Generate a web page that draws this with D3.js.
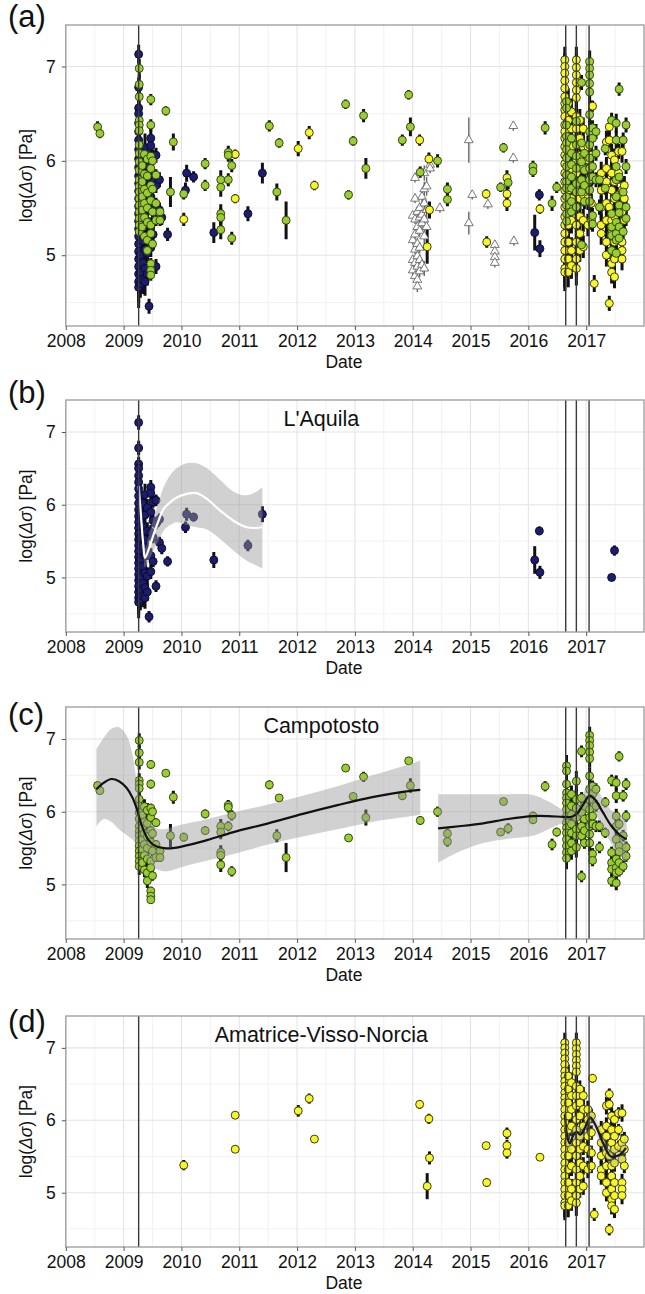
<!DOCTYPE html>
<html>
<head>
<meta charset="utf-8">
<script src="https://cdn.jsdelivr.net/npm/d3@7"></script>
<style>
  body { margin: 0; background: #fff; }
  svg { display: block; font-family: "Liberation Sans", Arial, Helvetica, sans-serif; }
</style>
</head>
<body>
<svg id="chart" width="645" height="1294"></svg>
<script>
// Stress-drop estimates, log10(Δσ) in Pa, per decimal year.
// Each row: [decimal year, error half-width, value, value, ...]
const laquila = [
  [2009.26, 0.10, 7.13, 6.78, 6.56, 6.50, 6.40, 6.31, 6.22, 6.12, 6.02, 5.93],
  [2009.26, 0.14, 5.84, 5.76, 5.68, 5.60, 5.52, 5.44, 5.36, 5.28, 5.20, 5.12],
  [2009.26, 0.22, 5.04, 4.96, 4.88, 4.80, 4.72, 4.66],
  [2009.29, 0.15, 5.88, 5.55, 5.25, 5.00, 4.82, 4.70],
  [2009.33, 0.15, 6.02, 5.70, 5.42, 5.15, 4.92, 4.74],
  [2009.37, 0.15, 6.14, 5.86, 5.52, 5.30, 5.06, 4.86, 4.72],
  [2009.41, 0.12, 5.96, 5.64, 5.36, 5.02, 4.80],
  [2009.44, 0.08, 4.46],
  [2009.47, 0.10, 6.24, 6.16, 5.90, 5.62, 5.30, 5.08],
  [2009.51, 0.08, 6.04, 5.78, 5.55, 5.22],
  [2009.56, 0.08, 6.06, 5.74, 4.88],
  [2009.62, 0.08, 5.80, 5.48],
  [2009.66, 0.08, 5.40],
  [2009.76, 0.07, 5.22],
  [2010.07, 0.08, 5.69],
  [2010.09, 0.09, 5.87],
  [2010.21, 0.06, 5.83],
  [2010.56, 0.11, 5.24],
  [2011.15, 0.08, 5.44],
  [2011.40, 0.11, 5.87],
  [2016.11, 0.19, 5.24],
  [2016.19, 0.06, 5.64],
  [2016.20, 0.09, 5.07],
  [2017.44, 0.05, 5.00],
  [2017.49, 0.07, 5.37]
];

const campotosto = [
  [2008.55, 0.06, 6.36],
  [2008.59, 0.05, 6.29],
  [2009.27, 0.10, 6.98, 6.81, 6.68, 6.43, 6.38, 6.32, 6.17, 6.08, 5.99, 5.90],
  [2009.27, 0.12, 5.80, 5.73, 5.67, 5.60, 5.53, 5.46, 5.39, 5.32, 5.25],
  [2009.32, 0.10, 5.95, 5.78, 5.62, 5.48, 5.30],
  [2009.36, 0.10, 6.07, 5.86, 5.70, 5.55, 5.40, 5.20],
  [2009.41, 0.10, 6.02, 5.84, 5.66, 5.50, 5.35, 5.16, 5.05],
  [2009.47, 0.06, 6.65, 6.38, 6.05, 5.92, 5.74, 5.58, 5.32, 5.23, 4.91, 4.84, 4.79],
  [2009.50, 0.07, 6.00, 5.70, 5.46, 5.12],
  [2009.56, 0.06, 5.85, 5.55, 5.37],
  [2009.63, 0.06, 5.46, 5.37],
  [2009.73, 0.05, 6.53],
  [2009.81, 0.16, 5.67],
  [2009.86, 0.09, 6.20],
  [2010.04, 0.06, 5.65],
  [2010.41, 0.06, 5.97, 5.74],
  [2010.68, 0.10, 5.80, 5.72, 5.44, 5.40, 5.27],
  [2010.81, 0.07, 6.09, 6.06, 5.80],
  [2010.87, 0.07, 5.95, 5.18],
  [2011.52, 0.06, 6.37],
  [2011.69, 0.05, 6.19],
  [2011.65, 0.09, 5.67],
  [2011.81, 0.20, 5.37],
  [2012.84, 0.05, 6.60],
  [2012.89, 0.05, 5.64],
  [2012.97, 0.05, 6.21],
  [2013.15, 0.07, 6.48],
  [2013.19, 0.11, 5.92],
  [2013.82, 0.06, 6.22],
  [2013.93, 0.05, 6.70],
  [2013.96, 0.10, 6.36],
  [2014.13, 0.06, 5.88],
  [2014.43, 0.07, 6.00],
  [2014.60, 0.07, 5.70, 5.59],
  [2015.57, 0.05, 6.14],
  [2015.52, 0.05, 5.72],
  [2015.65, 0.07, 5.77],
  [2016.08, 0.06, 5.94, 5.89],
  [2016.29, 0.07, 6.35],
  [2016.41, 0.08, 5.55],
  [2016.49, 0.06, 5.72],
  [2016.66, 0.15, 6.63, 6.56, 6.38, 6.26, 6.19, 6.12, 6.03, 5.94, 5.85, 5.78, 5.71, 5.62, 5.53, 5.44, 5.36],
  [2016.745, 0.12, 6.24, 6.08, 5.96, 5.83, 5.71, 5.57, 5.46],
  [2016.83, 0.14, 6.42, 6.17, 6.05, 5.92, 5.76, 5.67, 5.51],
  [2016.92, 0.08, 6.83, 6.19, 5.99, 5.80, 5.67, 5.11],
  [2016.97, 0.08, 6.08, 5.90, 5.74, 5.57],
  [2017.06, 0.12, 7.05, 6.98, 6.91, 6.82, 6.73, 6.49, 6.31, 6.17, 6.03, 5.92, 5.80, 5.69, 5.57],
  [2017.11, 0.08, 6.35, 6.24, 5.94, 5.83, 5.42, 5.33],
  [2017.17, 0.08, 6.31, 6.08, 5.80],
  [2017.23, 0.08, 5.80, 5.51],
  [2017.33, 0.07, 6.13, 5.71],
  [2017.44, 0.08, 6.43, 5.44, 5.30, 5.21, 5.05],
  [2017.52, 0.10, 6.40, 6.22, 5.94, 5.80, 5.62, 5.35, 5.23, 5.16, 5.02],
  [2017.57, 0.07, 6.76, 5.83, 5.53, 5.45, 5.30, 5.18],
  [2017.64, 0.08, 6.22, 5.67, 5.25],
  [2017.69, 0.08, 6.38, 5.94, 5.51, 5.39]
];

const amatrice = [
  [2010.04, 0.07, 5.38],
  [2010.93, 0.05, 6.07, 5.60],
  [2012.02, 0.08, 6.13],
  [2012.21, 0.07, 6.30],
  [2012.30, 0.05, 5.74],
  [2014.12, 0.06, 6.22],
  [2014.28, 0.07, 6.02],
  [2014.29, 0.09, 5.48],
  [2014.25, 0.18, 5.09],
  [2015.27, 0.05, 5.65],
  [2015.28, 0.06, 5.14],
  [2015.63, 0.08, 5.82, 5.65, 5.55],
  [2016.20, 0.05, 5.49],
  [2016.63, 0.14, 7.07, 7.00, 6.93, 6.85, 6.77, 6.68, 6.61, 6.54, 6.47, 6.38, 6.31, 6.24, 6.15, 6.06],
  [2016.63, 0.20, 5.97, 5.87, 5.78, 5.69, 5.60, 5.51, 5.41, 5.32, 5.23, 5.14, 5.05, 4.96, 4.86, 4.82],
  [2016.69, 0.16, 6.61, 6.43, 6.24, 6.06, 5.87, 5.69, 5.51, 5.32, 5.14, 4.96, 4.82],
  [2016.745, 0.14, 6.52, 6.34, 6.15, 5.92, 5.60, 5.37, 5.05, 4.89],
  [2016.83, 0.14, 7.07, 6.99, 6.91, 6.83, 6.75, 6.67, 6.47, 6.34, 6.20, 6.01],
  [2016.83, 0.18, 5.87, 5.69, 5.51, 5.32, 5.14, 4.96, 4.86],
  [2016.89, 0.12, 6.43, 6.24, 6.06, 5.78, 5.60, 5.41, 5.23, 5.05],
  [2016.95, 0.12, 6.34, 6.15, 5.92, 5.64, 5.37, 5.09],
  [2017.03, 0.12, 6.15, 6.01, 5.78, 5.60, 5.32],
  [2017.09, 0.10, 6.06, 5.83, 5.55, 5.37],
  [2017.11, 0.06, 6.58],
  [2017.14, 0.09, 4.70],
  [2017.26, 0.12, 5.87, 5.69, 5.51, 5.32, 5.23],
  [2017.35, 0.12, 6.20, 5.92, 5.78, 5.55, 5.37, 5.14, 5.00],
  [2017.40, 0.08, 6.36, 6.22, 5.51, 4.49],
  [2017.44, 0.12, 6.06, 5.87, 5.69, 5.37, 5.23, 5.05, 4.91, 4.82],
  [2017.49, 0.12, 6.01, 5.78, 5.60, 5.41, 5.14, 4.96, 4.77],
  [2017.56, 0.08, 6.10, 5.87, 5.64],
  [2017.62, 0.12, 6.10, 5.69, 5.46, 5.14, 5.05, 4.96],
  [2017.66, 0.10, 5.74, 5.60, 5.37]
];

// Sites outside the three sequences (open triangles)
const otherSites = [
  [2014.00, 0.05, 5.42, 5.16, 4.95, 4.84],
  [2014.04, 0.05, 5.82, 5.60, 5.38, 5.22, 5.06, 4.92, 4.78],
  [2014.08, 0.06, 5.46, 5.30, 5.12, 4.99, 4.88, 4.74, 4.67],
  [2014.12, 0.06, 5.50, 5.40, 5.26, 5.08, 4.95, 4.83],
  [2014.16, 0.06, 5.62, 5.43, 5.34, 4.90],
  [2014.20, 0.08, 5.87, 5.70, 5.55, 5.38, 5.20, 4.86],
  [2014.24, 0.10, 5.73, 5.48, 5.30],
  [2014.30, 0.05, 5.96, 5.92],
  [2014.47, 0.05, 5.50],
  [2014.97, 0.24, 6.22],
  [2014.97, 0.12, 5.34],
  [2015.03, 0.05, 5.64],
  [2015.30, 0.05, 5.54],
  [2015.42, 0.05, 5.11, 5.04, 4.98, 4.92],
  [2015.74, 0.05, 6.37, 6.03],
  [2015.75, 0.05, 5.15]
];

// Smoothed trends: [decimal year, fit, lower, upper]
const laquilaFit = [
  [2009.26, 6.26, 6.10, 6.42],
  [2009.30, 5.85, 5.70, 6.00],
  [2009.34, 5.45, 5.32, 5.58],
  [2009.37, 5.27, 5.14, 5.40],
  [2009.44, 5.40, 5.24, 5.58],
  [2009.51, 5.57, 5.36, 5.80],
  [2009.60, 5.77, 5.50, 6.02],
  [2009.69, 5.94, 5.64, 6.24],
  [2009.80, 6.03, 5.72, 6.40],
  [2009.92, 6.10, 5.76, 6.50],
  [2010.09, 6.15, 5.72, 6.57],
  [2010.26, 6.16, 5.69, 6.57],
  [2010.44, 6.08, 5.66, 6.50],
  [2010.67, 5.92, 5.53, 6.34],
  [2010.90, 5.78, 5.37, 6.18],
  [2011.13, 5.69, 5.23, 6.13],
  [2011.28, 5.68, 5.17, 6.17],
  [2011.40, 5.69, 5.12, 6.24]
];

const campotostoFitEarly = [
  [2008.53, 6.31, 5.80, 6.86],
  [2008.66, 6.40, 5.90, 7.02],
  [2008.79, 6.45, 5.86, 7.14],
  [2008.92, 6.42, 5.76, 7.16],
  [2009.05, 6.33, 5.68, 7.05],
  [2009.15, 6.20, 5.62, 6.80],
  [2009.22, 6.06, 5.56, 6.45],
  [2009.31, 5.82, 5.46, 6.08],
  [2009.43, 5.61, 5.32, 5.86],
  [2009.55, 5.53, 5.22, 5.78],
  [2009.70, 5.50, 5.18, 5.76],
  [2009.85, 5.50, 5.20, 5.79],
  [2010.05, 5.53, 5.25, 5.83],
  [2010.40, 5.60, 5.32, 5.89],
  [2010.90, 5.72, 5.42, 5.99],
  [2011.50, 5.84, 5.55, 6.10],
  [2012.10, 5.97, 5.66, 6.22],
  [2012.70, 6.09, 5.76, 6.35],
  [2013.30, 6.20, 5.86, 6.50],
  [2013.80, 6.27, 5.92, 6.62],
  [2014.13, 6.30, 5.96, 6.70]
];

const campotostoFitLate = [
  [2014.44, 5.77, 5.30, 6.24],
  [2014.80, 5.80, 5.45, 6.24],
  [2015.22, 5.84, 5.57, 6.24],
  [2015.65, 5.90, 5.63, 6.24],
  [2016.08, 5.94, 5.67, 6.23],
  [2016.35, 5.94, 5.76, 6.14],
  [2016.60, 5.93, 5.84, 6.03],
  [2016.75, 5.93, 5.84, 6.03],
  [2016.85, 5.98, 5.86, 6.10],
  [2016.95, 6.10, 5.96, 6.26],
  [2017.06, 6.22, 6.05, 6.37],
  [2017.15, 6.17, 5.98, 6.34],
  [2017.29, 5.99, 5.78, 6.18],
  [2017.44, 5.80, 5.55, 6.02],
  [2017.58, 5.68, 5.40, 5.95],
  [2017.70, 5.62, 5.30, 5.92]
];

const amatriceFit = [
  [2016.63, 6.08, 5.80, 6.40],
  [2016.68, 5.75, 5.62, 5.90],
  [2016.72, 5.68, 5.57, 5.80],
  [2016.78, 5.80, 5.70, 5.90],
  [2016.84, 5.84, 5.74, 5.94],
  [2016.90, 5.80, 5.70, 5.90],
  [2016.98, 5.90, 5.80, 6.00],
  [2017.07, 6.04, 5.92, 6.15],
  [2017.18, 5.90, 5.78, 6.02],
  [2017.30, 5.67, 5.55, 5.79],
  [2017.43, 5.50, 5.38, 5.62],
  [2017.57, 5.52, 5.40, 5.65],
  [2017.69, 5.62, 5.46, 5.78]
];

// Main shocks: L'Aquila, Amatrice, Norcia, Campotosto
const eventDates = [2009.26, 2016.646, 2016.83, 2017.05];

const yearTicks = [2008, 2009, 2010, 2011, 2012, 2013, 2014, 2015, 2016, 2017];
const yearMinor = [2008.5, 2009.5, 2010.5, 2011.5, 2012.5, 2013.5, 2014.5, 2015.5, 2016.5, 2017.5];
const logTicks = [5, 6, 7];
const logMinor = [4.5, 5.5, 6.5];

// ---------------------------------------------------------------
const svg = d3.select("#chart");

const flatten = rows => rows.flatMap(([yr, err, ...vals]) => vals.map(v => ({ date: yr, value: v, err })));

const series = {
  laquila:   { pts: flatten(laquila),    fill: "#1d1d6b", stroke: "#08082a", shape: "circle" },
  campotosto:{ pts: flatten(campotosto), fill: "#9acd32", stroke: "#2a3a10", shape: "circle" },
  amatrice:  { pts: flatten(amatrice),   fill: "#f6f62a", stroke: "#2a2a10", shape: "circle" },
  other:     { pts: flatten(otherSites), fill: "#ffffff", stroke: "#6a6a6a", shape: "triangle" }
};

const x = d3.scaleLinear().domain([2008, 2018]).range([65.8, 644]);

const panels = [
  { tag: "(a)", top: 25,   bottom: 326,  tagY: 27,   groups: ["laquila", "other", "amatrice", "campotosto"], title: null, fits: [] },
  { tag: "(b)", top: 400,  bottom: 632,  tagY: 403,  groups: ["laquila"], title: "L'Aquila",
    fits: [{ data: laquilaFit, line: "#ffffff" }] },
  { tag: "(c)", top: 707,  bottom: 939,  tagY: 725,  groups: ["campotosto"], title: "Campotosto",
    fits: [{ data: campotostoFitEarly, line: "#111111" }, { data: campotostoFitLate, line: "#111111" }] },
  { tag: "(d)", top: 1016, bottom: 1247, tagY: 1032, groups: ["amatrice"], title: "Amatrice-Visso-Norcia",
    fits: [{ data: amatriceFit, line: "#1a1a1a", light: true }] }
];

panels.forEach((p, i) => {
  const y = d3.scaleLinear().domain([4.25, 7.44]).range([p.bottom, p.top]);
  const g = svg.append("g");
  const clipId = "clip" + i;
  g.append("clipPath").attr("id", clipId)
    .append("rect").attr("x", x(2008)).attr("y", p.top)
    .attr("width", x(2018) - x(2008)).attr("height", p.bottom - p.top);

  const plot = g.append("g").attr("clip-path", `url(#${clipId})`);

  // grid
  plot.selectAll(".vminor").data(yearMinor).join("line")
    .attr("x1", d => x(d)).attr("x2", d => x(d)).attr("y1", p.top).attr("y2", p.bottom)
    .attr("stroke", "#f0f0f0").attr("stroke-width", 0.9);
  plot.selectAll(".hminor").data(logMinor).join("line")
    .attr("x1", x(2008)).attr("x2", x(2018)).attr("y1", d => y(d)).attr("y2", d => y(d))
    .attr("stroke", "#f0f0f0").attr("stroke-width", 0.9);
  plot.selectAll(".vmajor").data(yearTicks).join("line")
    .attr("x1", d => x(d)).attr("x2", d => x(d)).attr("y1", p.top).attr("y2", p.bottom)
    .attr("stroke", "#e4e4e4").attr("stroke-width", 1.1);
  plot.selectAll(".hmajor").data(logTicks).join("line")
    .attr("x1", x(2008)).attr("x2", x(2018)).attr("y1", d => y(d)).attr("y2", d => y(d))
    .attr("stroke", "#e4e4e4").attr("stroke-width", 1.1);

  // error bars
  p.groups.forEach(k => {
    const s = series[k];
    const tri = s.shape === "triangle";
    plot.append("g").selectAll("line").data(s.pts).join("line")
      .attr("x1", d => x(d.date)).attr("x2", d => x(d.date))
      .attr("y1", d => y(d.value - d.err)).attr("y2", d => y(d.value + d.err))
      .attr("stroke", tri ? "#666" : "#111")
      .attr("stroke-width", tri ? 1.4 : 3);
  });

  // points
  p.groups.forEach(k => {
    const s = series[k];
    const layer = plot.append("g");
    if (s.shape === "triangle") {
      const sym = d3.symbol(d3.symbolTriangle, 34);
      layer.selectAll("path").data(s.pts).join("path")
        .attr("d", sym)
        .attr("transform", d => `translate(${x(d.date)},${y(d.value)})`)
        .attr("fill", s.fill).attr("stroke", s.stroke).attr("stroke-width", 0.9);
    } else {
      layer.selectAll("circle").data(s.pts).join("circle")
        .attr("cx", d => x(d.date)).attr("cy", d => y(d.value)).attr("r", 4)
        .attr("fill", s.fill).attr("stroke", s.stroke).attr("stroke-width", 0.9);
    }
  });

  // smoothed trends with confidence ribbon
  p.fits.forEach(f => {
    const area = d3.area().x(d => x(d[0])).y0(d => y(d[2])).y1(d => y(d[3])).curve(d3.curveCatmullRom);
    const line = d3.line().x(d => x(d[0])).y(d => y(d[1])).curve(d3.curveCatmullRom);
    plot.append("path").datum(f.data).attr("d", area)
      .attr("fill", "#999").attr("fill-opacity", f.light ? 0.3 : 0.45);
    plot.append("path").datum(f.data).attr("d", line)
      .attr("fill", "none").attr("stroke", f.line).attr("stroke-width", 2.2);
  });

  // main-shock markers
  plot.selectAll(".ev").data(eventDates).join("line")
    .attr("x1", d => x(d)).attr("x2", d => x(d)).attr("y1", p.top).attr("y2", p.bottom)
    .attr("stroke", "#3a3a3a").attr("stroke-width", 1.4);

  // frame
  g.append("rect").attr("x", x(2008)).attr("y", p.top)
    .attr("width", x(2018) - x(2008)).attr("height", p.bottom - p.top)
    .attr("fill", "none").attr("stroke", "#9a9a9a").attr("stroke-width", 1.3);

  // axes
  const xAxis = d3.axisBottom(x).tickValues(yearTicks).tickFormat(d3.format("d")).tickSize(4).tickPadding(5);
  const gx = g.append("g").attr("transform", `translate(0,${p.bottom})`).call(xAxis);
  const yAxis = d3.axisLeft(y).tickValues(logTicks).tickFormat(d3.format("d")).tickSize(4).tickPadding(6);
  const gy = g.append("g").attr("transform", `translate(${x(2008)},0)`).call(yAxis);
  [gx, gy].forEach(a => {
    a.select(".domain").remove();
    a.selectAll(".tick line").attr("stroke", "#555").attr("stroke-width", 1);
    a.selectAll(".tick text").attr("fill", "#111").style("font-size", "17.5px")
      .style("font-family", "'Liberation Sans', Arial, sans-serif");
  });

  // axis titles
  g.append("text").attr("x", (x(2008) + x(2018)) / 2 - 11).attr("y", p.bottom + 42)
    .attr("text-anchor", "middle").attr("font-size", 17.5).attr("fill", "#111").text("Date");

  const ylab = g.append("text")
    .attr("transform", `translate(32,${(p.top + p.bottom) / 2}) rotate(-90)`)
    .attr("text-anchor", "middle").attr("font-size", 17.5).attr("fill", "#111");
  ylab.append("tspan").text("log(");
  ylab.append("tspan").attr("font-style", "italic").text("Δσ");
  ylab.append("tspan").text(") [Pa]");

  // panel tag
  g.append("text").attr("x", 8).attr("y", p.tagY).attr("font-size", 31).attr("fill", "#111").text(p.tag);

  // sequence title
  if (p.title) {
    g.append("text").attr("x", x(2012.42)).attr("y", p.top + 26)
      .attr("text-anchor", "middle").attr("font-size", 21.5).attr("fill", "#111").text(p.title);
  }
});
</script>
</body>
</html>
